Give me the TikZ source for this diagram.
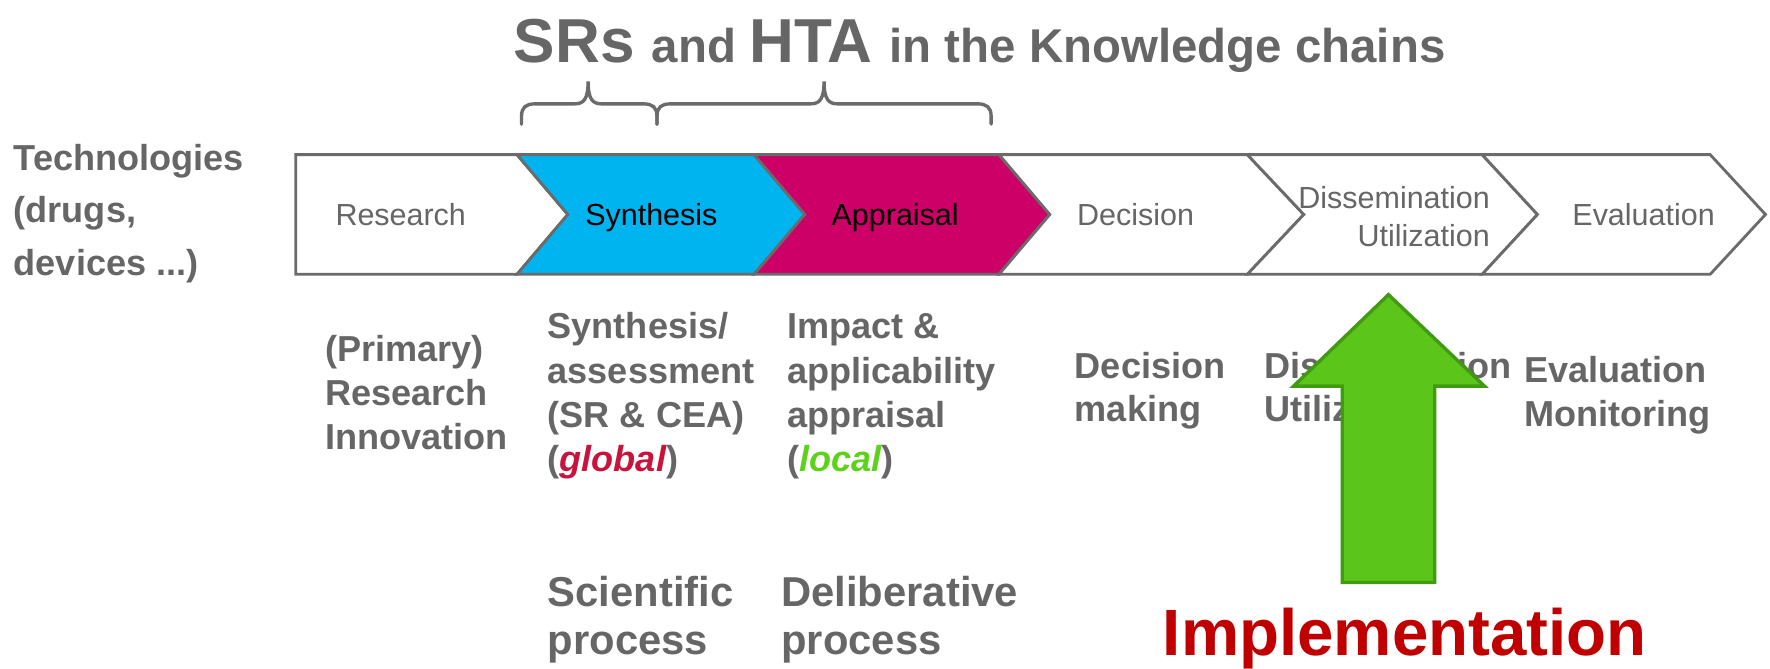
\documentclass[tikz,border=0pt]{standalone}
\usepackage{fontspec}
\setmainfont{Liberation Sans}
\definecolor{txtgray}{HTML}{666666}
\definecolor{linegray}{HTML}{6B6B6B}
\definecolor{synth}{HTML}{00B4EF}
\definecolor{apprs}{HTML}{CC0066}
\definecolor{arrowfill}{HTML}{5BC619}
\definecolor{arrowedge}{HTML}{419A12}
\definecolor{implred}{HTML}{C00000}
\definecolor{globalred}{HTML}{C8143C}
\definecolor{localgreen}{HTML}{5CD21A}
\newcommand{\stk}[2]{\vtop{\baselineskip=#1\relax\lineskiplimit=-\maxdimen\lineskip=0pt\def\\{\egroup\hbox\bgroup}\hbox\bgroup#2\egroup}}
\tikzset{
  band/.style={draw=linegray, line width=2.5pt, line join=miter},
  bandlbl/.style={inner sep=0pt, anchor=base, font=\fontsize{27}{34}\selectfont},
  boldlbl/.style={inner sep=0pt, anchor=base west, text=txtgray, font=\bfseries\fontsize{32}{39}\selectfont},
  biglbl/.style={inner sep=0pt, anchor=base west, text=txtgray, font=\bfseries\fontsize{37}{43}\selectfont},
  bracestyle/.style={draw=linegray, line width=3pt, line cap=round},
}
\begin{document}
\begin{tikzpicture}[x=1pt,y=-1pt]
\useasboundingbox (0,0) rectangle (1568,592);
% chevron band
\draw[band, fill=white] (262,137) -- (458,137) -- (503,190) -- (458,243) -- (262,243) -- cycle;
\draw[band, fill=synth] (458,137) -- (668,137) -- (713,190) -- (668,243) -- (458,243) -- (503,190) -- cycle;
\draw[band, fill=apprs] (668,137) -- (885,137) -- (930,190) -- (885,243) -- (668,243) -- (713,190) -- cycle;
\draw[band, fill=white] (885,137) -- (1105,137) -- (1155,190) -- (1105,243) -- (885,243) -- (930,190) -- cycle;
\draw[band, fill=white] (1105,137) -- (1313,137) -- (1362,190) -- (1313,243) -- (1105,243) -- (1155,190) -- cycle;
\draw[band, fill=white] (1313,137) -- (1515,137) -- (1564,190) -- (1515,243) -- (1313,243) -- (1362,190) -- cycle;
% band labels
\node[bandlbl, text=txtgray] (bRes) at (355,200) {Research};
\node[bandlbl, text=black] (bSyn) at (577,200) {Synthesis};
\node[bandlbl, text=black] (bApp) at (793,200) {Appraisal};
\node[bandlbl, text=txtgray] (bDec) at (1006,200) {Decision};
\node[inner sep=0pt, anchor=east, align=right, text=txtgray, font=\fontsize{27}{34}\selectfont] (bDis) at (1320,192) {Dissemination\\Utilization};
\node[bandlbl, text=txtgray] (bEva) at (1456,200) {Evaluation};
% braces
\draw[bracestyle] (462,110) -- (462,103) .. controls (462,95) and (466,92) .. (474,92) -- (509,92) .. controls (517,92) and (521,88) .. (521,72) .. controls (521,88) and (525,92) .. (533,92) -- (570,92) .. controls (578,92) and (582,95) .. (582,103) -- (582,110);
\draw[bracestyle] (582,110) -- (582,103) .. controls (582,95) and (586,92) .. (594,92) -- (718,92) .. controls (726,92) and (730,88) .. (730,72) .. controls (730,88) and (734,92) .. (742,92) -- (866,92) .. controls (874,92) and (878,95) .. (878,103) -- (878,110);
% title
\node[inner sep=0pt, anchor=base west, text=txtgray, font=\bfseries] (title) at (455,55) {\fontsize{55}{55}\selectfont SRs \fontsize{42}{42}\selectfont and \fontsize{55}{55}\selectfont HTA \fontsize{42}{42}\selectfont in the Knowledge chains};
% left label
\node[boldlbl] (tech) at (12,151) {\stk{46.5pt}{Technologies\\(drugs,\\devices ...)}};
% lower labels
\node[boldlbl] (lRes) at (288,320) {\stk{39pt}{(Primary)\\Research\\Innovation}};
\node[boldlbl] (lSyn) at (485,300) {\stk{39.3pt}{Synthesis/\\assessment\\(SR \& CEA)\\(\textcolor{globalred}{\itshape global})}};
\node[boldlbl] (lApp) at (697,300) {\stk{39.3pt}{Impact \&\\applicability\\appraisal\\(\textcolor{localgreen}{\itshape local})}};
\node[boldlbl] (lDec) at (952,335) {\stk{38.5pt}{Decision\\making}};
\node[boldlbl] (lDis) at (1120,335) {\stk{38.5pt}{Dissemination\\Utilization}};
\node[boldlbl] (lEva) at (1350,339) {\stk{39pt}{Evaluation\\Monitoring}};
\node[biglbl] (sci) at (485,537) {\stk{43pt}{Scientific\\process}};
\node[biglbl] (del) at (692,537) {\stk{43pt}{Deliberative\\process}};
% implementation arrow
\draw[fill=arrowfill, draw=arrowedge, line width=3pt, line join=miter] (1230,261) -- (1315,342) -- (1271,342) -- (1271,516) -- (1189,516) -- (1189,342) -- (1146,342) -- cycle;
\node[inner sep=0pt, anchor=base west, text=implred, font=\bfseries\fontsize{58}{58}\selectfont] (impl) at (1030,581) {Implementation};
\end{tikzpicture}
\end{document}
